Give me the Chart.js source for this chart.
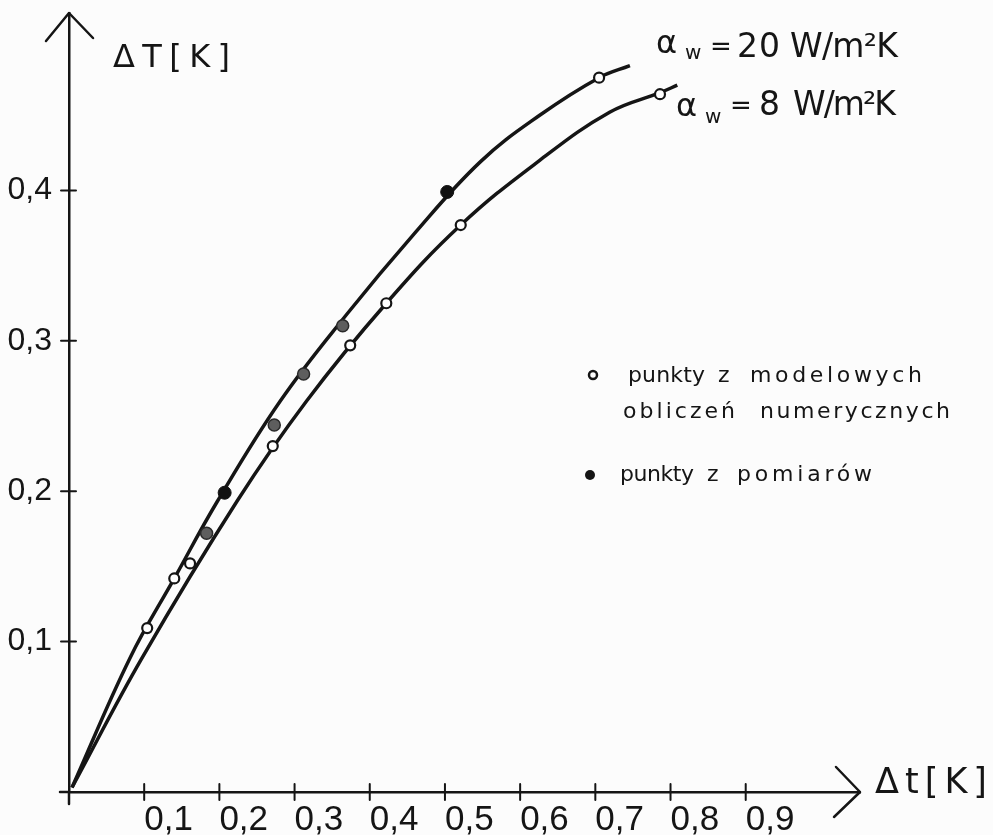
<!DOCTYPE html>
<html>
<head>
<meta charset="utf-8">
<script src="https://cdn.jsdelivr.net/npm/chart.js@4.4.1/dist/chart.umd.min.js"></script>
<style>
  html, body { margin: 0; padding: 0; background: #fcfcfc; }
  #wrap { width: 993px; height: 835px; position: relative; }
</style>
</head>
<body>
<div id="wrap"><canvas id="c" width="993" height="835"></canvas></div>
<script>
// Axis ticks (Δt on x, ΔT on y), labels use decimal commas
const xTicks = [0.1, 0.2, 0.3, 0.4, 0.5, 0.6, 0.7, 0.8, 0.9];
const xTickLabels = ['0,1', '0,2', '0,3', '0,4', '0,5', '0,6', '0,7', '0,8', '0,9'];
const yTicks = [0.1, 0.2, 0.3, 0.4];
const yTickLabels = ['0,1', '0,2', '0,3', '0,4'];

// Fitted curve for α_w = 20 W/m²K  [Δt, ΔT]
const curve20 = [
  [0.004, 0.003], [0.081, 0.089], [0.140, 0.142], [0.197, 0.193], [0.281, 0.260],
  [0.370, 0.318], [0.457, 0.370], [0.547, 0.419], [0.626, 0.450], [0.705, 0.475],
  [0.746, 0.483]
];
// Fitted curve for α_w = 8 W/m²K  [Δt, ΔT]
const curve8 = [
  [0.004, 0.003], [0.097, 0.089], [0.223, 0.193], [0.316, 0.260], [0.422, 0.325],
  [0.521, 0.377], [0.626, 0.420], [0.719, 0.452], [0.786, 0.465], [0.809, 0.470]
];
// Points from numerical model calculations (open circles)
const modelPoints = [
  [0.104, 0.109], [0.140, 0.142], [0.161, 0.152], [0.271, 0.230], [0.374, 0.297],
  [0.422, 0.325], [0.521, 0.377], [0.705, 0.475], [0.786, 0.464]
];
// Measured points (filled)
const measuredDark = [[0.207, 0.199], [0.503, 0.399]];
const measuredGrey = [[0.183, 0.172], [0.273, 0.244], [0.312, 0.278], [0.364, 0.310]];

const INK = '#151515';
const SANS = '"DejaVu Sans"';
const toXY = arr => arr.map(([x, y]) => ({ x, y }));

// Draws a text run stretched to a given width via letter spacing
function spacedText(ctx, text, x, y, width, font) {
  ctx.font = font;
  ctx.letterSpacing = '0px';
  const w = ctx.measureText(text).width;
  const n = [...text].length;
  const sp = n > 1 ? (width - w) / (n - 1) : 0;
  ctx.letterSpacing = sp + 'px';
  ctx.fillText(text, x, y);
  ctx.letterSpacing = '0px';
}

// Draws a line of words, each placed at [word, left, right]
function wordLine(ctx, words, y, font) {
  words.forEach(([t, l, r]) => spacedText(ctx, t, l, y, r - l, font));
}

const decorations = {
  id: 'decorations',
  afterDraw(chart) {
    const ctx = chart.ctx;
    const xs = chart.scales.x, ys = chart.scales.y;
    const x0 = xs.getPixelForValue(0), y0 = ys.getPixelForValue(0);
    const xEnd = xs.getPixelForValue(xs.max), yTop = ys.getPixelForValue(ys.max);
    ctx.save();
    ctx.strokeStyle = INK;
    ctx.fillStyle = INK;
    ctx.lineCap = 'round';
    ctx.lineJoin = 'round';

    // small overshoot of the axes past the origin
    ctx.lineWidth = 2.5;
    ctx.beginPath();
    ctx.moveTo(x0 - 9, y0); ctx.lineTo(x0, y0);
    ctx.moveTo(x0, y0); ctx.lineTo(x0, y0 + 12);
    ctx.stroke();

    // arrow heads
    ctx.beginPath();
    ctx.moveTo(x0 - 23, yTop + 28); ctx.lineTo(x0, yTop); ctx.lineTo(x0 + 24, yTop + 25);
    ctx.moveTo(xEnd - 24, y0 - 25); ctx.lineTo(xEnd, y0); ctx.lineTo(xEnd - 26, y0 + 25);
    ctx.stroke();

    // tick crosses
    ctx.lineWidth = 2;
    ctx.beginPath();
    xTicks.forEach(v => {
      const p = xs.getPixelForValue(v);
      ctx.moveTo(p, y0 - 8); ctx.lineTo(p, y0 + 8);
    });
    yTicks.forEach(v => {
      const p = ys.getPixelForValue(v);
      ctx.moveTo(x0 - 8, p); ctx.lineTo(x0 + 7, p);
    });
    ctx.stroke();

    // axis titles
    ctx.textBaseline = 'alphabetic';
    ctx.textAlign = 'left';
    spacedText(ctx, 'ΔT[K]', 113, 67, 117, '32px ' + SANS);
    spacedText(ctx, 'Δt[K]', 875, 793, 112, '35px ' + SANS);

    // curve labels
    ctx.font = '32px ' + SANS; ctx.fillText('α', 656, 53);
    ctx.font = '20px ' + SANS; ctx.fillText('w', 685, 59);
    ctx.font = '26px ' + SANS; ctx.fillText('=', 710, 55);
    spacedText(ctx, '20', 737, 57, 43, '33px ' + SANS);
    spacedText(ctx, 'W/m²K', 790, 57, 108, '33px ' + SANS);

    ctx.font = '32px ' + SANS; ctx.fillText('α', 676, 116);
    ctx.font = '20px ' + SANS; ctx.fillText('w', 705, 123);
    ctx.font = '26px ' + SANS; ctx.fillText('=', 730, 114);
    ctx.font = '33px ' + SANS; ctx.fillText('8', 759, 115);
    spacedText(ctx, 'W/m²K', 793, 115, 103, '33px ' + SANS);

    // key
    ctx.lineWidth = 2.5;
    ctx.beginPath(); ctx.arc(593, 375, 4, 0, Math.PI * 2); ctx.stroke();
    ctx.beginPath(); ctx.arc(590, 475, 5, 0, Math.PI * 2); ctx.fill();
    const keyFont = '22px ' + SANS;
    wordLine(ctx, [['punkty', 628, 705], ['z', 718, 731], ['modelowych', 750, 922]], 382, keyFont);
    wordLine(ctx, [['obliczeń', 623, 735], ['numerycznych', 760, 950]], 418, keyFont);
    wordLine(ctx, [['punkty', 620, 694], ['z', 707, 720], ['pomiarów', 737, 872]], 481, keyFont);
    ctx.restore();
  }
};

const lineStyle = {
  showLine: true, pointRadius: 0, borderColor: INK, borderWidth: 3.5,
  tension: 0.4, fill: false
};

new Chart(document.getElementById('c'), {
  type: 'scatter',
  data: {
    datasets: [
      { label: 'model', data: toXY(modelPoints), pointRadius: 5, pointBorderWidth: 2.2,
        pointBackgroundColor: '#ffffff', pointBorderColor: INK, order: 1 },
      { label: 'pomiary', data: toXY(measuredDark), pointRadius: 6.5, pointBorderWidth: 1,
        pointBackgroundColor: '#111111', pointBorderColor: '#111111', order: 1 },
      { label: 'pomiary (szare)', data: toXY(measuredGrey), pointRadius: 6, pointBorderWidth: 1.5,
        pointBackgroundColor: '#5e5e5e', pointBorderColor: '#2a2a2a', order: 1 },
      Object.assign({ label: 'α_w = 20', data: toXY(curve20), order: 2 }, lineStyle),
      Object.assign({ label: 'α_w = 8', data: toXY(curve8), order: 2 }, lineStyle)
    ]
  },
  options: {
    responsive: false,
    animation: false,
    devicePixelRatio: 1,
    layout: { padding: { top: 13, right: 133, left: 0, bottom: 0 } },
    plugins: { legend: { display: false }, tooltip: { enabled: false } },
    scales: {
      x: {
        type: 'linear', min: 0, max: 1.052,
        grid: { display: false, drawTicks: false },
        border: { display: true, color: INK, width: 2.5 },
        afterBuildTicks: s => { s.ticks = xTicks.map(v => ({ value: v })); },
        afterFit: s => { s.height = 43; s.paddingLeft = 0; s.paddingRight = 0; },
        ticks: {
          autoSkip: false, maxRotation: 0, align: 'start', padding: 7, color: INK,
          font: { family: 'Liberation Sans', size: 35 },
          callback: (v, i) => xTickLabels[i]
        }
      },
      y: {
        type: 'linear', min: 0, max: 0.518,
        grid: { display: false, drawTicks: false },
        border: { display: true, color: INK, width: 2.5 },
        afterBuildTicks: s => { s.ticks = yTicks.map(v => ({ value: v })); },
        afterFit: s => { s.width = 69; s.paddingTop = 0; s.paddingBottom = 0; },
        ticks: {
          autoSkip: false, padding: 17, color: INK,
          font: { family: 'Liberation Sans', size: 32 },
          callback: (v, i) => yTickLabels[i]
        }
      }
    }
  },
  plugins: [decorations]
});
</script>
</body>
</html>
